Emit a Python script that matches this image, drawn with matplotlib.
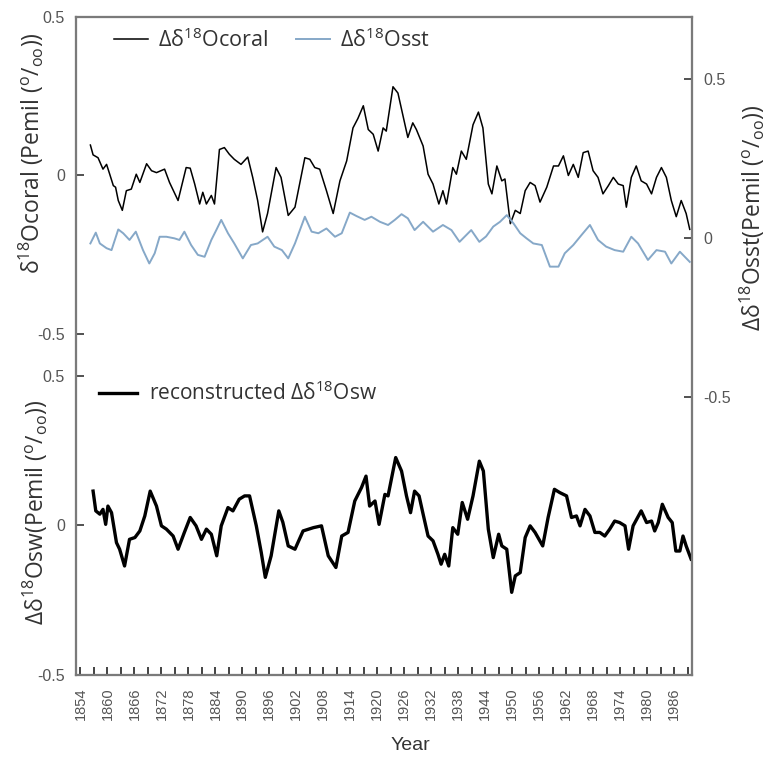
import matplotlib
matplotlib.use("Agg")
import matplotlib.pyplot as plt
from matplotlib.ticker import FixedLocator

plt.rcParams['font.family'] = ['Open Sans', 'DejaVu Sans']
plt.rcParams['mathtext.fontset'] = 'custom'
plt.rcParams['mathtext.rm'] = 'Open Sans'
plt.rcParams['mathtext.default'] = 'regular'

coral_year = [1856.2, 1856.8, 1857.9, 1859.0, 1859.8, 1860.5, 1861.3, 1861.8, 1862.4, 1863.3,
              1864.2, 1865.3, 1866.4, 1867.2, 1868.7, 1869.8, 1870.9, 1872.7, 1873.8, 1875.7,
              1877.5, 1878.4, 1879.4, 1880.5, 1881.2, 1882.0, 1883.1, 1883.8, 1884.9, 1886.0,
              1887.1, 1888.2, 1889.7, 1891.2, 1892.3, 1893.4, 1894.5, 1895.6, 1897.5, 1898.6,
              1900.2, 1901.7, 1903.9, 1905.0, 1906.1, 1907.2, 1908.7, 1910.2, 1911.7, 1913.2,
              1914.6, 1915.7, 1916.9, 1918.0, 1919.1, 1920.2, 1921.3, 1922.0, 1923.5, 1924.6,
              1925.7, 1926.8, 1927.9, 1928.7, 1930.2, 1931.3, 1932.4, 1933.7, 1934.6, 1935.4,
              1936.8, 1937.6, 1938.7, 1939.8, 1941.3, 1942.5, 1943.5, 1944.7, 1945.5, 1946.6,
              1947.7, 1948.4, 1949.6, 1950.7, 1951.8, 1952.9, 1954.0, 1955.1, 1956.2, 1957.7,
              1959.2, 1960.3, 1961.4, 1962.5, 1963.6, 1964.7, 1965.8, 1966.9, 1968.0, 1969.1,
              1970.2, 1971.4, 1972.5, 1973.6, 1974.7, 1975.4, 1976.5, 1977.6, 1978.7, 1979.9,
              1981.0, 1982.1, 1983.2, 1984.3, 1985.4, 1986.5, 1987.6, 1988.7, 1989.5]
coral = [0.096, 0.065, 0.056, 0.020, 0.035, 0.004, -0.032, -0.037, -0.079, -0.110,
         -0.048, -0.043, 0.004, -0.022, 0.037, 0.015, 0.009, 0.020, -0.022, -0.079,
         0.025, 0.023, -0.027, -0.090, -0.053, -0.090, -0.063, -0.090, 0.082, 0.088,
         0.067, 0.051, 0.035, 0.058, -0.006, -0.079, -0.178, -0.120, 0.025, -0.006,
         -0.126, -0.100, 0.056, 0.051, 0.025, 0.020, -0.048, -0.120, -0.017, 0.046,
         0.150, 0.180, 0.220, 0.145, 0.130, 0.077, 0.150, 0.140, 0.280, 0.260,
         0.190, 0.120, 0.166, 0.145, 0.093, 0.004, -0.027, -0.090, -0.048, -0.090,
         0.025, 0.004, 0.077, 0.051, 0.160, 0.200, 0.150, -0.027, -0.058, 0.030,
         -0.017, -0.011, -0.152, -0.110, -0.120, -0.048, -0.022, -0.032, -0.084, -0.037,
         0.030, 0.030, 0.062, 0.000, 0.035, -0.006, 0.072, 0.077, 0.015, -0.006,
         -0.058, -0.032, -0.006, -0.027, -0.032, -0.100, -0.006, 0.030, -0.017, -0.027,
         -0.058, -0.006, 0.025, -0.006, -0.079, -0.130, -0.079, -0.120, -0.170]

sst_year = [1856.2, 1857.4, 1858.3, 1859.8, 1860.9, 1862.4, 1863.5, 1864.9, 1866.3, 1867.9,
            1869.3, 1870.5, 1871.6, 1873.1, 1874.9, 1876.0, 1877.1, 1878.6, 1880.1, 1881.6,
            1883.1, 1884.2, 1885.3, 1886.8, 1888.2, 1890.1, 1891.9, 1893.4, 1895.6, 1897.1,
            1898.8, 1900.2, 1901.7, 1903.9, 1905.4, 1906.9, 1908.7, 1910.6, 1912.1, 1913.9,
            1915.4, 1917.2, 1918.7, 1920.6, 1922.4, 1923.9, 1925.4, 1926.8, 1928.3, 1930.2,
            1932.4, 1934.6, 1936.5, 1938.3, 1940.9, 1942.7, 1944.2, 1945.8, 1947.3, 1948.8,
            1950.3, 1951.8, 1953.2, 1954.7, 1956.6, 1958.4, 1960.3, 1961.7, 1963.6, 1965.4,
            1967.3, 1969.1, 1970.9, 1972.8, 1974.7, 1976.5, 1978.0, 1980.2, 1982.1, 1984.0,
            1985.4, 1987.3, 1989.5]
sst = [-0.017, 0.017, -0.017, -0.032, -0.038, 0.027, 0.015, -0.006, 0.020, -0.038,
       -0.080, -0.048, 0.004, 0.004, -0.001, -0.006, 0.020, -0.022, -0.053, -0.059,
       -0.006, 0.025, 0.057, 0.015, -0.017, -0.064, -0.022, -0.017, 0.004, -0.027,
       -0.038, -0.064, -0.017, 0.067, 0.020, 0.015, 0.030, 0.004, 0.015, 0.080,
       0.069, 0.057, 0.067, 0.051, 0.041, 0.057, 0.075, 0.062, 0.025, 0.051,
       0.020, 0.041, 0.025, -0.012, 0.025, -0.012, 0.005, 0.036, 0.051, 0.072,
       0.046, 0.015, -0.001, -0.017, -0.022, -0.090, -0.090, -0.048, -0.022, 0.009,
       0.041, -0.006, -0.027, -0.038, -0.043, 0.004, -0.017, -0.069, -0.038, -0.043,
       -0.080, -0.043, -0.075]

sw_year = [1856.8, 1857.4, 1858.3, 1859.0, 1859.6, 1860.1, 1860.9, 1862.0, 1862.7, 1863.8,
           1864.9, 1866.1, 1867.2, 1868.3, 1869.5, 1870.9, 1872.0, 1873.1, 1874.6, 1875.7,
           1877.1, 1878.4, 1879.7, 1880.9, 1882.0, 1883.1, 1884.3, 1885.3, 1886.8, 1887.9,
           1889.3, 1890.5, 1891.6, 1893.1, 1894.2, 1895.1, 1896.4, 1898.1, 1899.0, 1900.2,
           1901.7, 1903.5, 1905.8, 1907.6, 1909.1, 1910.8, 1912.1, 1913.5, 1915.0, 1916.5,
           1917.5, 1918.3, 1919.5, 1920.4, 1921.7, 1922.4, 1924.1, 1925.4, 1926.5, 1927.4,
           1928.3, 1929.3, 1930.2, 1931.3, 1932.4, 1933.5, 1934.2, 1935.0, 1935.9, 1936.8,
           1937.9, 1938.9, 1940.1, 1941.3, 1942.7, 1943.6, 1944.7, 1945.8, 1947.0, 1947.7,
           1948.8, 1949.9, 1950.7, 1951.8, 1952.9, 1954.0, 1955.1, 1956.8, 1958.0, 1959.4,
           1960.6, 1962.1, 1963.2, 1964.3, 1965.1, 1966.2, 1967.3, 1968.4, 1969.5, 1970.6,
           1971.7, 1972.8, 1973.9, 1975.1, 1975.9, 1976.9, 1978.7, 1979.9, 1981.0, 1981.7,
           1982.5, 1983.4, 1984.7, 1985.6, 1986.4, 1987.3, 1988.0, 1988.7, 1989.8]
sw = [0.114, 0.048, 0.037, 0.053, 0.003, 0.064, 0.042, -0.058, -0.080, -0.136,
      -0.047, -0.041, -0.019, 0.031, 0.114, 0.064, -0.002, -0.013, -0.036, -0.080,
      -0.024, 0.026, -0.002, -0.047, -0.013, -0.030, -0.102, -0.002, 0.059, 0.048,
      0.087, 0.098, 0.098, -0.002, -0.091, -0.174, -0.102, 0.048, 0.010, -0.069,
      -0.080, -0.019, -0.008, -0.002, -0.102, -0.141, -0.036, -0.024, 0.081, 0.126,
      0.164, 0.064, 0.081, 0.003, 0.103, 0.098, 0.226, 0.181, 0.098, 0.042,
      0.114, 0.098, 0.037, -0.036, -0.052, -0.097, -0.130, -0.097, -0.136, -0.008,
      -0.030, 0.076, 0.020, 0.098, 0.214, 0.181, -0.013, -0.108, -0.030, -0.069,
      -0.080, -0.224, -0.169, -0.158, -0.041, -0.002, -0.024, -0.069, 0.026, 0.120,
      0.109, 0.098, 0.026, 0.031, -0.002, 0.053, 0.031, -0.024, -0.024, -0.036,
      -0.013, 0.014, 0.009, -0.002, -0.080, -0.002, 0.048, 0.009, 0.014, -0.019,
      0.009, 0.070, 0.026, 0.009, -0.086, -0.086, -0.036, -0.069, -0.113]

major_years = list(range(1854, 1990, 6))
minor_years = list(range(1857, 1990, 6))
yticks = [-0.5, 0, 0.5]
ytick_labels = ['-0.5', '0', '0.5']

W, H = 767, 758
fig = plt.figure(figsize=(W / 100, H / 100), dpi=100)
L, R, B, T = 76, 692, 675, 17
ax = fig.add_axes([L / W, (H - B) / H, (R - L) / W, (B - T) / H])
ax_top = ax.twinx()
ax_r = ax.twinx()

spine_c = '#7a7a7a'
tick_c = '#555555'
lab_c = '#333333'

# bottom panel: reconstructed sw
l_sw, = ax.plot(sw_year, sw, color='black', lw=2.4, label=r'reconstructed $\Delta\delta^{18}$Osw')
ax.set_xlim(1853, 1990)
ax.set_ylim(-0.5, 1.697)

# top panel: coral (left) and sst (right)
l_coral, = ax_top.plot(coral_year, coral, color='black', lw=1.1, label=r'$\Delta\delta^{18}$Ocoral')
ax_top.set_ylim(-1.576, 0.5)
l_sst, = ax_r.plot(sst_year, sst, color='#86a8c8', lw=1.4, label=r'$\Delta\delta^{18}$Osst')
ax_r.set_ylim(-1.374, 0.695)

for a in (ax, ax_top, ax_r):
    for s in a.spines.values():
        s.set_color(spine_c)
        s.set_linewidth(1.5)
    a.set_yticks(yticks)
    a.set_yticklabels(ytick_labels)
    a.tick_params(axis='y', direction='in', length=6, width=1.2, color='#333333',
                  labelsize=11.5, labelcolor=tick_c)
    a.set_xlim(1853, 1990)

ax_top.yaxis.tick_left()
ax_top.tick_params(axis='y', pad=8)
ax.tick_params(axis='y', pad=8)
ax_r.yaxis.tick_right()
ax_r.tick_params(axis='y', pad=8)
for t in ax.get_yticklabels() + ax_top.get_yticklabels() + ax_r.get_yticklabels():
    t.set_family('Liberation Sans')

ax.set_xticks(major_years)
ax.set_xticklabels([str(y) for y in major_years], rotation=90, family='Liberation Sans')
ax.xaxis.set_minor_locator(FixedLocator(minor_years))
ax.tick_params(axis='x', which='both', direction='in', length=6, width=1.2, color='#222222',
               labelsize=10.5, labelcolor=tick_c, pad=9)

fig.text(410 / W, 1 - 746 / H, 'Year', ha='center', va='center', fontsize=14,
         color=lab_c, family='Liberation Sans')
fig.text(31 / W, 1 - 153 / H, r'$\delta^{18}$Ocoral (Pemil ($^{o}/_{oo}$))', rotation=90,
         ha='center', va='center', fontsize=16.5, color=lab_c)
fig.text(35 / W, 1 - 512 / H, r'$\Delta\delta^{18}$Osw(Pemil ($^{o}/_{oo}$))', rotation=90,
         ha='center', va='center', fontsize=16.5, color=lab_c)
fig.text(752 / W, 1 - 218 / H, r'$\Delta\delta^{18}$Osst(Pemil ($^{o}/_{oo}$))', rotation=90,
         ha='center', va='center', fontsize=16.5, color=lab_c)

leg1 = fig.legend(handles=[l_coral, l_sst], loc='center left', bbox_to_anchor=(114 / W, 1 - 40 / H),
                  ncol=2, frameon=False, fontsize=15.5, handlelength=1.6, handletextpad=0.45,
                  columnspacing=1.3, borderpad=0, borderaxespad=0)
leg2 = fig.legend(handles=[l_sw], loc='center left', bbox_to_anchor=(99 / W, 1 - 393 / H),
                  frameon=False, fontsize=15, handlelength=1.8, handletextpad=0.6,
                  borderpad=0, borderaxespad=0)
for lg in (leg1, leg2):
    for t in lg.get_texts():
        t.set_color(lab_c)

fig.savefig('out.png', dpi=100)
